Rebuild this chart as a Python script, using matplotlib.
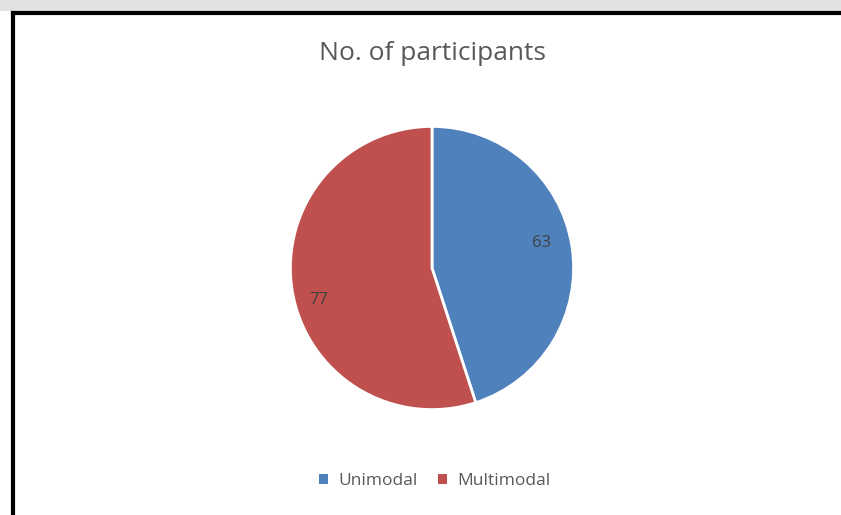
import matplotlib.pyplot as plt
from matplotlib.patches import Rectangle
from matplotlib.lines import Line2D

plt.rcParams['font.family'] = ['Open Sans', 'DejaVu Sans']

# Data
categories = ['Unimodal', 'Multimodal']
participants = [63, 77]
colors = ['#4F81BD', '#C0504D']

W, H = 841, 515
fig = plt.figure(figsize=(W / 100, H / 100), dpi=100)

# grey strip at the top (scanned page background)
fig.patches.append(Rectangle((0, (H - 11) / H), 1, 11 / H, transform=fig.transFigure,
                             facecolor='#e2e2e2', edgecolor='none', zorder=0))
# black frame on top and left
fig.lines.append(Line2D([12.5 / W, 1], [(H - 12.5) / H] * 2, transform=fig.transFigure,
                        color='black', lw=3))
fig.lines.append(Line2D([12.5 / W] * 2, [0, (H - 12.5) / H], transform=fig.transFigure,
                        color='black', lw=3))

fig.text(432 / W, (H - 54) / H, 'No. of participants', ha='center', va='center',
         fontsize=19, color='#595959')

cx, cy, r = 432, 268, 143
ax = fig.add_axes([(cx - r) / W, (H - cy - r) / H, 2 * r / W, 2 * r / H])
wedges, texts, autotexts = ax.pie(
    participants, colors=colors, startangle=90, counterclock=False,
    autopct=lambda p: f'{round(p * sum(participants) / 100):d}', pctdistance=0.78,
    wedgeprops=dict(edgecolor='white', linewidth=2),
    textprops=dict(fontsize=12, color='#404040'))
# nudge labels to where Excel put them
for t, (dx, dy) in zip(autotexts, [(0.0, 0.055), (-0.03, -0.105)]):
    x, y = t.get_position()
    t.set_position((x + dx, y + dy))
ax.set_xlim(-1.01, 1.01)
ax.set_ylim(-1.01, 1.01)
ax.set_aspect('equal')
ax.axis('off')

handles = [Rectangle((0, 0), 1, 1, facecolor=c) for c in colors]
fig.legend(handles, categories, loc='center', bbox_to_anchor=(435 / W, (H - 481) / H),
           ncol=2, frameon=False, fontsize=12.5, handlelength=0.5, handleheight=0.5,
           handletextpad=0.6, columnspacing=1.2, labelcolor='#595959')

fig.savefig('out.png', dpi=100)
